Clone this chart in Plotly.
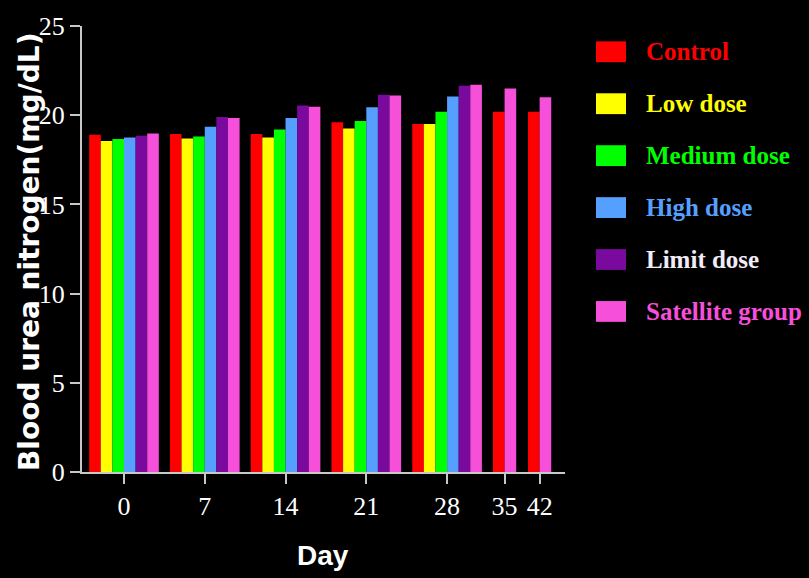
import plotly.graph_objects as go

# ---- data ----
days = ["0", "7", "14", "21", "28", "35", "42"]
series_names = ["Control", "Low dose", "Medium dose", "High dose", "Limit dose", "Satellite group"]
control = [18.9, 18.95, 18.95, 19.6, 19.5, 20.2, 20.2]
low_dose = [18.55, 18.7, 18.75, 19.25, 19.5]
medium_dose = [18.67, 18.8, 19.2, 19.67, 20.2]
high_dose = [18.75, 19.35, 19.85, 20.45, 21.05]
limit_dose = [18.85, 19.9, 20.55, 21.15, 21.65]
satellite = [18.98, 19.85, 20.47, 21.1, 21.7, 21.5, 21.0]
series_values = [control, low_dose, medium_dose, high_dose, limit_dose, satellite]
bar_colors = ["#FF0000", "#FFFF00", "#00FF00", "#55A0FF", "#7A0A9E", "#F64FDA"]
text_colors = ["#FF0000", "#FFFF00", "#00FF00", "#55A0FF", "#F2ECF8", "#F64FDA"]
y_ticks = [0, 5, 10, 15, 20, 25]

# ---- layout helpers (positions of day groups on the axis) ----
group_pos = [0, 1, 2, 3, 4, 4.712, 5.146]
W = 0.1437
FW, FH = 809, 578
L, R, T, B = 82, 244, 22, 106
PW, PH = FW - L - R, FH - T - B

fig = go.Figure()
for i, (name, vals) in enumerate(zip(series_names, series_values)):
    xs, offs = [], []
    for j, v in enumerate(vals):
        xs.append(group_pos[j])
        if j < 5:
            offs.append(-3 * W + i * W)
        else:
            offs.append(-W if i == 0 else 0.0)
    fig.add_trace(go.Bar(
        x=xs, y=vals, name=name, width=W, offset=offs,
        marker=dict(color=bar_colors[i], line=dict(width=0)),
        showlegend=False,
    ))

def px_x(p):
    return (p - L) / PW

def px_y(p):
    return (FH - B - p) / PH

shapes, annotations = [], []
for i, name in enumerate(series_names):
    cy = 48 + i * 52.4
    shapes.append(dict(type="rect", xref="paper", yref="paper",
                       x0=px_x(596), x1=px_x(626), y0=px_y(cy + 10.5), y1=px_y(cy - 10.5),
                       fillcolor=bar_colors[i], line=dict(width=0)))
    annotations.append(dict(text="<b>%s</b>" % name, xref="paper", yref="paper",
                            x=px_x(644), y=px_y(cy), xanchor="left", yanchor="middle",
                            showarrow=False,
                            font=dict(family="Liberation Serif", size=25, color=text_colors[i])))

annotations.append(dict(text="<b>Blood urea nitrogen(mg/dL)</b>", xref="paper", yref="paper",
                        x=px_x(30), y=px_y(250), textangle=-90, showarrow=False,
                        xanchor="center", yanchor="middle",
                        font=dict(family="DejaVu Sans", size=28, color="white")))
annotations.append(dict(text="<b>Day</b>", xref="paper", yref="paper",
                        x=px_x(323), y=px_y(556), showarrow=False,
                        xanchor="center", yanchor="middle",
                        font=dict(family="Liberation Sans", size=28, color="white")))

fig.update_layout(
    width=FW, height=FH,
    margin=dict(l=L, r=R, t=T, b=B, pad=0),
    paper_bgcolor="black", plot_bgcolor="black",
    barmode="overlay",
    shapes=shapes, annotations=annotations,
    xaxis=dict(range=[-0.52, 5.46], tickvals=group_pos, ticktext=days,
               showgrid=False, zeroline=False, showline=True, linecolor="#C8C8C8", linewidth=2,
               ticks="outside", ticklen=10, tickwidth=2, tickcolor="#C8C8C8",
               tickfont=dict(family="Liberation Serif", size=26, color="white")),
    yaxis=dict(range=[0, 25], tickvals=y_ticks, showgrid=False, zeroline=False,
               showline=True, linecolor="#C8C8C8", linewidth=2,
               ticks="outside", ticklen=10, tickwidth=2, tickcolor="#C8C8C8",
               tickfont=dict(family="Liberation Serif", size=26, color="white")),
)

fig.write_html(
    "out.html",
    config={"displayModeBar": False},
    post_script="document.body.style.margin='0';document.body.style.background='black';document.body.style.overflow='hidden';",
)
